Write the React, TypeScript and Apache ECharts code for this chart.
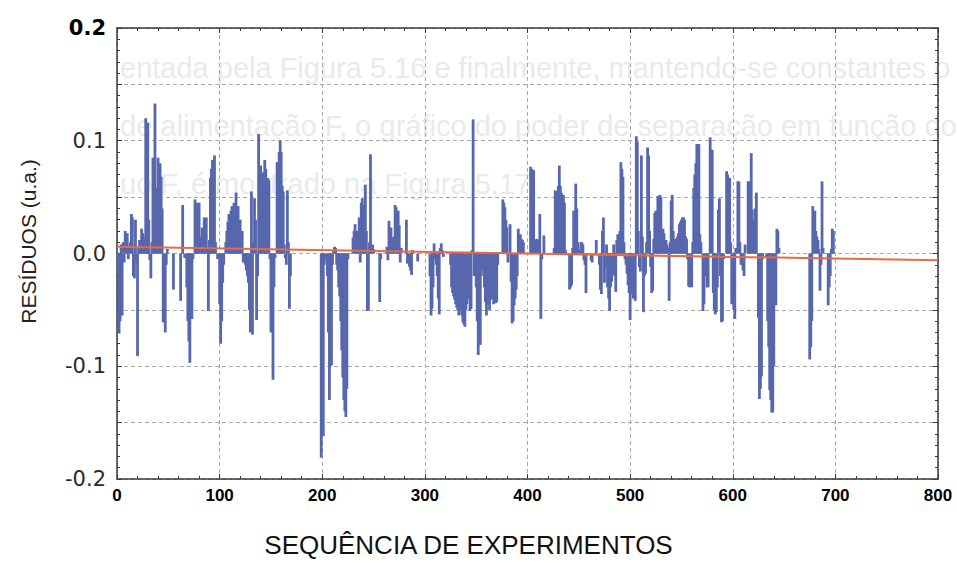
import React, { useEffect, useRef } from 'react';
import * as echarts from 'echarts';

// Experiment index (x) of each residual bar
const experiments = [
  1, 2, 3, 4, 5, 6, 7, 8, 9, 10, 11, 12, 13, 14, 15, 16, 17, 18, 19, 20,
  21, 22, 23, 24, 25, 26, 27, 28, 29, 30, 31, 32, 33, 34, 35, 36, 37, 38, 39, 40,
  41, 42, 43, 44, 45, 46, 47, 48, 49, 55, 62, 64, 66, 68, 69, 70, 71, 72, 73, 74,
  76, 77, 78, 79, 80, 81, 82, 83, 84, 85, 86, 87, 88, 89, 90, 91, 92, 93, 94, 95,
  96, 98, 100, 101, 102, 103, 104, 106, 107, 108, 109, 110, 111, 112, 113, 114, 115, 116, 117, 118,
  119, 120, 121, 122, 123, 125, 126, 127, 128, 129, 130, 131, 132, 133, 134, 135, 136, 137, 138, 139,
  140, 141, 142, 143, 144, 145, 146, 147, 148, 149, 150, 151, 152, 153, 154, 156, 157, 158, 159, 160,
  161, 162, 163, 164, 165, 166, 167, 168, 169,
  199, 200, 201, 202, 203, 205, 206, 207, 208, 209, 210, 211, 212, 213, 214, 215, 216, 217, 218, 219,
  220, 221, 222, 223, 224, 225, 230, 231, 232, 233, 234, 235, 236, 237, 238, 239, 240, 241, 242, 243,
  244, 245, 246, 247, 248, 249, 250, 256, 257, 263, 264, 265, 266, 267, 268, 269, 270, 271, 272, 273,
  274, 275, 276, 277, 282, 283, 284, 285, 286, 287, 288, 293, 305, 306, 307, 308, 309, 310, 311, 312,
  313, 314, 315, 316, 317, 318, 325, 326, 327, 328, 329, 330, 331, 332, 333, 334, 335, 336, 337, 338,
  339, 340, 341, 342, 343, 344, 345, 346, 347, 348,
  349, 350, 351, 352, 353, 354, 355, 357, 358, 359, 360, 361, 362, 363, 364, 365, 366, 367, 368, 369,
  370, 371, 376, 377, 378, 379, 380, 381, 383, 384, 385, 386, 387, 388, 389, 390, 391, 392, 393, 394,
  395, 396, 403, 404, 405, 406, 407, 408, 409, 410, 411, 412, 413, 414, 416, 426, 427, 428, 429, 430,
  431, 432, 433, 434, 435, 436, 437, 441, 442, 443, 444, 445, 446, 447, 448, 449, 450, 452, 453, 454,
  455, 456, 457, 462, 463, 467, 470, 471, 472, 473, 474, 475, 476, 477, 478, 479, 480, 481, 482, 483,
  484, 485, 486, 487, 488, 489, 490, 491, 492, 493, 494, 495, 496, 497, 498, 499, 500, 501, 502, 503,
  504, 505, 506, 507, 508, 509, 510, 511, 512, 513, 514, 515, 516, 517, 518, 519, 520, 521, 522, 523,
  524, 525, 526, 527, 528, 529, 530, 531, 532, 533, 534, 535, 536, 537, 538, 539, 540, 541, 542, 543,
  544, 545, 546, 547, 548, 549, 550, 551, 552, 553, 554, 555, 556, 557, 558, 559, 560, 561, 562, 563,
  564, 565, 566, 567, 568, 569, 571, 572, 573, 575, 576, 578, 579, 580, 581, 582, 583, 584, 585, 586,
  587, 588, 589, 590, 591, 594, 595, 596, 597, 598, 599, 600, 601, 602, 603, 605, 606, 607, 608, 609,
  610, 611, 612, 615, 616, 617, 618, 619, 620, 621, 622, 623, 625, 626, 627, 628, 629, 633, 634, 635,
  636, 637, 638, 639, 640, 641, 642, 643, 644, 645, 675, 676, 677, 678, 679, 680, 681, 682, 683, 684,
  685, 686, 687, 688, 693, 694, 695, 696, 697, 698,
];

// Residual (u.a.) read for each experiment above
const residuals = [
  -0.012, -0.071, -0.06, 0.008, -0.055, 0.01, -0.008, 0.02, 0.015, 0.018, -0.005, 0.006, 0.01, 0.035, 0.032, -0.02, -0.022, 0.03, -0.008, -0.091,
  0.005, 0.012, 0.01, 0.022, 0.018, 0.012, 0.015, 0.12, 0.02, 0.116, 0.03, -0.006, -0.022, 0.01, 0.085, 0.06, 0.133, 0.058, 0.03, 0.085,
  0.06, 0.08, 0.068, 0.04, -0.061, -0.03, -0.07, -0.01, 0.004, -0.032, -0.042, 0.043, -0.004, -0.03, -0.06, -0.078, -0.097, -0.05, -0.058, -0.005,
  0.048, 0.01, 0.045, 0.012, 0.045, 0.008, 0.015, 0.023, 0.01, 0.032, 0.02, 0.032, 0.005, -0.051, 0.012, 0.067, 0.075, 0.083, 0.05, 0.087,
  0.01, -0.005, -0.045, -0.08, -0.06, -0.026, -0.01, 0.01, 0.02, 0.028, 0.035, 0.03, 0.038, 0.042, 0.036, 0.045, 0.04, 0.054, 0.035, 0.042,
  0.02, 0.03, 0.015, 0.02, -0.008, -0.01, -0.015, -0.02, -0.026, -0.05, -0.07, 0.055, -0.072, 0.01, 0.049, 0.03, -0.059, -0.02, 0.106, 0.04,
  0.078, 0.02, 0.072, 0.05, 0.083, 0.075, 0.03, 0.067, 0.065, -0.005, -0.07, -0.05, -0.112, -0.03, -0.004, 0.081, 0.075, 0.09, 0.1, 0.09,
  0.06, 0.055, 0.008, -0.004, -0.01, 0.056, 0.01, -0.049, -0.02,
  -0.181, -0.16, -0.162, -0.01, -0.005, -0.02, -0.07, -0.13, -0.1, -0.099, -0.01, 0.002, 0.006, 0.005, -0.01, -0.015, -0.03, -0.038, -0.06, -0.086,
  -0.11, -0.13, -0.14, -0.145, -0.12, -0.005, 0.014, 0.02, 0.026, 0.01, 0.02, 0.014, 0.032, -0.008, 0.045, 0.049, 0.043, 0.035, 0.061, 0.02,
  -0.051, -0.05, 0.01, 0.088, 0.005, 0.008, 0.004, -0.043, -0.005, 0.006, -0.006, 0.029, 0.02, 0.023, 0.01, 0.014, 0.015, 0.043, 0.041, 0.03,
  0.038, 0.025, -0.008, 0.005, 0.03, -0.009, -0.005, -0.012, -0.015, -0.019, 0.003, -0.007, -0.02, -0.055, -0.049, -0.03, 0.009, -0.005, -0.01, -0.02,
  -0.04, -0.054, 0.005, 0.009, 0.003, -0.003, -0.01, -0.03, -0.035, -0.038, -0.041, -0.045, -0.048, -0.05, -0.055, -0.048, -0.05, -0.055, -0.061, -0.063,
  -0.065, -0.05, -0.045, -0.035, -0.04, -0.051, -0.049, 0.003, 0.119, -0.02,
  -0.01, -0.03, -0.06, -0.09, -0.07, -0.081, -0.02, -0.015, -0.03, -0.043, -0.055, -0.045, -0.035, -0.05, -0.041, -0.04, -0.038, -0.045, -0.04, -0.044,
  -0.043, -0.01, 0.048, 0.045, 0.041, 0.03, 0.023, -0.008, 0.026, -0.025, -0.062, -0.06, -0.046, -0.04, -0.032, -0.02, 0.022, 0.015, 0.017, 0.013,
  0.012, 0.01, 0.077, 0.075, 0.072, 0.074, 0.012, 0.012, 0.013, 0.012, 0.01, 0.035, -0.058, -0.005, 0.016, 0.005, 0.056, 0.05, 0.055, 0.06,
  0.078, 0.06, 0.054, 0.05, 0.052, 0.045, 0.003, -0.032, -0.03, -0.028, 0.005, 0.038, 0.02, 0.062, 0.04, 0.01, 0.003, 0.01, 0.01, 0.008,
  -0.006, -0.01, -0.035, -0.006, -0.008, 0.012, -0.01, -0.032, -0.036, 0.02, 0.032, -0.026, -0.012, 0.008, -0.03, -0.04, -0.051, -0.03, -0.025, -0.018,
  0.008, -0.02, -0.034, 0.012, 0.017, 0.005, 0.02, 0.081, 0.075, 0.068, 0.01, -0.005, -0.01, -0.018, -0.028, -0.035, -0.059, -0.035, -0.036, -0.04,
  -0.03, -0.042, 0.104, 0.099, 0.02, -0.012, -0.016, 0.087, 0.015, -0.052, -0.02, -0.018, 0.01, 0.094, 0.087, 0.02, -0.012, -0.035, -0.033, 0.013,
  0.036, 0.038, 0.02, 0.051, 0.045, 0.052, 0.05, 0.015, 0.022, 0.018, 0.01, 0.012, 0.008, 0.005, -0.042, 0.01, 0.047, 0.052, 0.02, 0.012,
  0.013, 0.01, 0.015, 0.018, 0.026, 0.028, 0.03, 0.032, 0.032, 0.03, 0.015, 0.013, -0.005, -0.029, -0.03, -0.025, -0.03, 0.01, 0.058, 0.07,
  0.08, 0.097, 0.097, 0.097, 0.017, 0.01, -0.051, -0.045, -0.02, -0.03, -0.03, 0.103, 0.01, 0.092, -0.035, -0.05, -0.054, -0.052, -0.03, 0.039,
  0.049, -0.02, -0.061, -0.06, -0.005, 0.073, 0.07, 0.065, 0.067, 0.01, -0.045, -0.04, -0.05, -0.058, 0.005, 0.064, 0.064, 0.01, -0.01, -0.01,
  -0.015, -0.02, 0.008, 0.064, 0.064, 0.05, 0.089, 0.039, 0.025, 0.03, 0.04, 0.054, -0.057, -0.129, -0.12, -0.109, -0.005, -0.004, -0.06, -0.083,
  -0.121, -0.13, -0.141, -0.141, -0.1, -0.042, -0.046, 0.022, 0.02, 0.005, -0.094, -0.083, -0.06, 0.042, 0.035, 0.038, 0.02, 0.015, 0.012, 0.004,
  -0.033, -0.01, 0.064, 0.005, -0.046, -0.03, -0.02, 0.004, 0.022, 0.02,
];

// Red trend line through the residuals
const trendExperiments = [0, 800];
const trendResiduals = [0.006, -0.006];

const xAxisTitle = 'SEQUÊNCIA DE EXPERIMENTOS';
const yAxisTitle = 'RESÍDUOS (u.a.)';

// Faint text showing through from the scanned page
const pageTextLines = [
  'entada pela Figura 5.16 e finalmente, mantendo-se constantes o',
  'de alimentação F, o gráfico do poder de separação em função do',
  'uo F, é mostrado na Figura 5.17.',
];

export default function App() {
  const ref = useRef<HTMLDivElement>(null);

  useEffect(() => {
    document.body.style.margin = '0';
    const chart = echarts.init(ref.current as HTMLDivElement, null, { renderer: 'svg' });
    const frame = { color: '#3a3a3a', width: 1.5 };
    const tickStyle = { color: '#3a3a3a', width: 1 };
    const gridLine = { show: true, lineStyle: { color: '#a8a8a8', type: [4, 3], width: 1 } };
    const pageTextY = [68, 126, 184];

    chart.setOption({
      animation: false,
      backgroundColor: '#ffffff',
      grid: { left: 117, right: 19, top: 28, bottom: 76 },
      graphic: pageTextLines.map((t, i) => ({
        type: 'text',
        x: 120,
        y: pageTextY[i],
        z: -10,
        silent: true,
        style: {
          text: t,
          fill: '#e9e9ee',
          font: '29px "Liberation Sans", Arial, sans-serif',
          textVerticalAlign: 'middle',
        },
      })),
      xAxis: [
        {
          type: 'value',
          min: 0,
          max: 800,
          interval: 100,
          position: 'bottom',
          axisLine: { show: true, onZero: false, lineStyle: frame },
          axisTick: { show: true, inside: true, length: 5, lineStyle: tickStyle },
          minorTick: { show: true, splitNumber: 5, length: 3, lineStyle: tickStyle },
          axisLabel: {
            color: '#000',
            fontFamily: '"Liberation Sans", Arial, sans-serif',
            fontWeight: 'bold',
            fontSize: 17,
            margin: 8,
          },
          splitLine: gridLine,
          name: xAxisTitle,
          nameLocation: 'middle',
          nameGap: 53,
          nameTextStyle: {
            color: '#111',
            fontSize: 26,
            fontFamily: '"Liberation Sans", Arial, sans-serif',
            padding: [0, 118, 0, 0],
          },
        },
        {
          type: 'value',
          min: 0,
          max: 800,
          interval: 100,
          position: 'top',
          axisLine: { show: true, onZero: false, lineStyle: frame },
          axisTick: { show: true, inside: true, length: 5, lineStyle: tickStyle },
          minorTick: { show: true, splitNumber: 5, length: 3, lineStyle: tickStyle },
          axisLabel: { show: false },
          splitLine: { show: false },
        },
      ],
      yAxis: [
        {
          type: 'value',
          min: -0.2,
          max: 0.2,
          interval: 0.05,
          position: 'left',
          axisLine: { show: true, onZero: false, lineStyle: frame },
          axisTick: { show: true, inside: true, length: 5, lineStyle: tickStyle },
          minorTick: { show: true, splitNumber: 5, length: 3, lineStyle: tickStyle },
          splitLine: gridLine,
          axisLabel: {
            margin: 11,
            formatter: (v: number) => {
              const k = Math.round(v * 100);
              if (k % 10 !== 0) return '';
              const t = (k / 100).toFixed(1);
              return k === 20 ? `{top|${t}}` : `{reg|${t}}`;
            },
            rich: {
              top: { fontWeight: 'bold', color: '#000', fontSize: 21, fontFamily: '"DejaVu Sans", sans-serif' },
              reg: { color: '#2a2a2a', fontSize: 21, fontFamily: '"DejaVu Sans", sans-serif' },
            },
          },
          name: yAxisTitle,
          nameLocation: 'middle',
          nameGap: 78,
          nameTextStyle: {
            color: '#222',
            fontSize: 21,
            fontFamily: '"Liberation Sans", Arial, sans-serif',
            padding: [0, 0, 0, 24],
          },
        },
        {
          type: 'value',
          min: -0.2,
          max: 0.2,
          interval: 0.05,
          position: 'right',
          axisLine: { show: true, onZero: false, lineStyle: frame },
          axisTick: { show: true, inside: true, length: 5, lineStyle: tickStyle },
          minorTick: { show: true, splitNumber: 5, length: 3, lineStyle: tickStyle },
          axisLabel: { show: false },
          splitLine: { show: false },
        },
      ],
      series: [
        {
          type: 'bar',
          xAxisIndex: 0,
          yAxisIndex: 0,
          data: experiments.map((x, i) => [x, residuals[i]]),
          barWidth: 2.8,
          itemStyle: { color: '#5767ad' },
          z: 2,
        },
        {
          type: 'line',
          xAxisIndex: 0,
          yAxisIndex: 0,
          data: trendExperiments.map((x, i) => [x, trendResiduals[i]]),
          symbol: 'none',
          lineStyle: { color: '#e86a40', width: 2 },
          z: 3,
        },
      ],
    });

    return () => chart.dispose();
  }, []);

  return <div ref={ref} style={{ width: 957, height: 563 }} />;
}
